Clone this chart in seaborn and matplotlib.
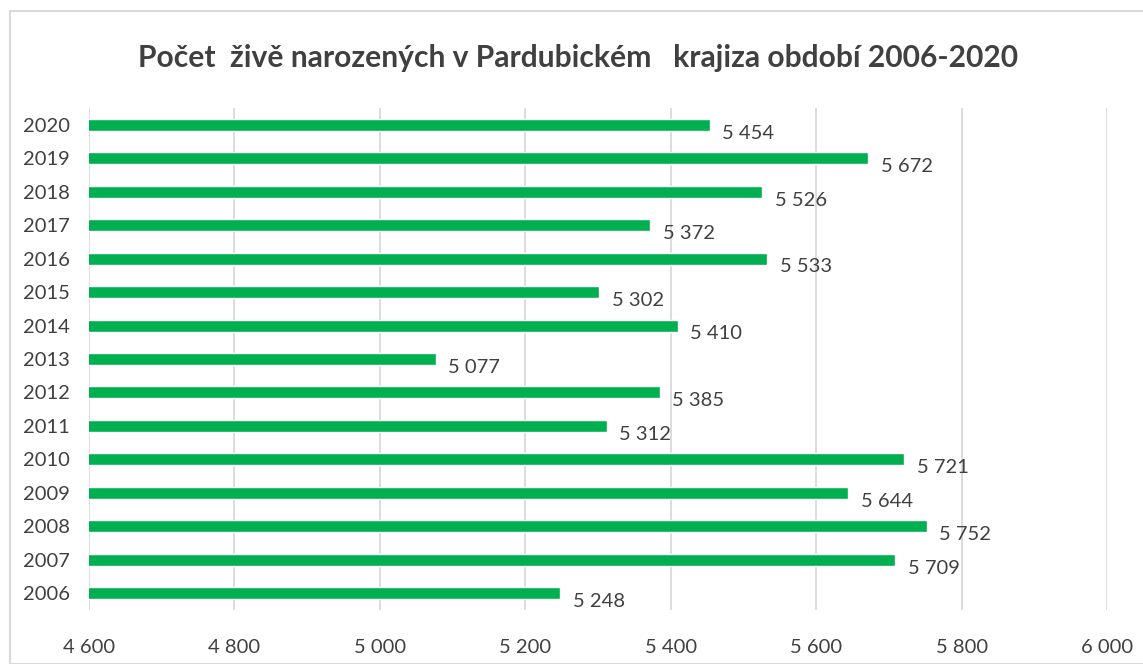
import matplotlib
matplotlib.use("Agg")
import matplotlib.pyplot as plt
import seaborn as sns
import pandas as pd
from matplotlib.ticker import FuncFormatter, MultipleLocator

years = [2006, 2007, 2008, 2009, 2010, 2011, 2012, 2013, 2014, 2015, 2016, 2017, 2018, 2019, 2020]
births = [5248, 5709, 5752, 5644, 5721, 5312, 5385, 5077, 5410, 5302, 5533, 5372, 5526, 5672, 5454]
title = "Počet  živě narozených v Pardubickém   krajiza období 2006-2020"

sns.set_theme(style="white")
plt.rcParams['font.family'] = ['Lato', 'DejaVu Sans']

df = pd.DataFrame({"rok": [str(y) for y in years], "pocet": births})
order = [str(y) for y in reversed(years)]

fig = plt.figure(figsize=(11.43, 6.64), dpi=100)
ax = fig.add_axes([89/1143, 1-610/664, (1107-89)/1143, (610-108)/664])

sns.barplot(data=df, x="pocet", y="rok", order=order, orient="h", color="#00B050",
            width=0.36, saturation=1, ax=ax, zorder=3)

fmt = lambda v: f"{int(round(v)):,}".replace(",", " ")
ax.set_xlim(4600, 6000)
ax.set_ylim(len(order) - 0.5, -0.5)
ax.xaxis.set_major_locator(MultipleLocator(200))
ax.xaxis.set_major_formatter(FuncFormatter(lambda v, p: fmt(v)))
ax.grid(axis="x", color="#D9D9D9", linewidth=1.3, zorder=0)
ax.grid(axis="y", visible=False)
for s in ax.spines.values():
    s.set_visible(False)
ax.set_xlabel("")
ax.set_ylabel("")
ax.tick_params(axis="x", length=0, pad=21, labelsize=14.5, labelcolor="#404040")
ax.tick_params(axis="y", length=0, pad=14, labelsize=14.5, labelcolor="#404040")

for i, yr in enumerate(order):
    v = df.loc[df.rok == yr, "pocet"].iloc[0]
    ax.annotate(fmt(v), xy=(v, i), xytext=(9, -6), textcoords="offset points",
                ha="left", va="center", fontsize=14.5, color="#404040")

fig.text(578/1143, 1-58/664, title, ha="center", va="center", fontsize=21.6,
         fontweight="bold", color="#404040")

border = plt.Rectangle((10/1143, 0), 1, 1-11/664, transform=fig.transFigure,
                       fill=False, edgecolor="#D9D9D9", linewidth=1.5)
fig.add_artist(border)

fig.savefig("out.png", dpi=100)
